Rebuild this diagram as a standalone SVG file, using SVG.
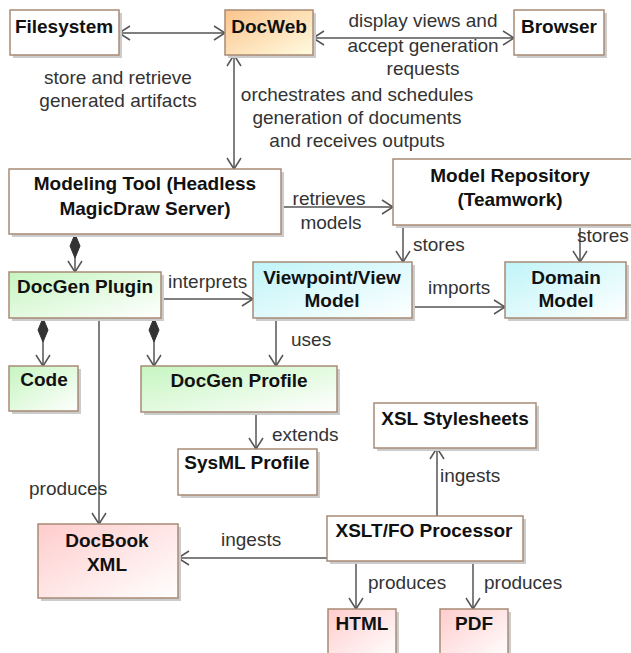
<svg xmlns="http://www.w3.org/2000/svg" width="631" height="653" viewBox="0 0 631 653">
<defs>
<linearGradient id="gOrange" x1="0" y1="0" x2="1" y2="1"><stop offset="0" stop-color="#fbc48c"/><stop offset="1" stop-color="#fffbe0"/></linearGradient>
<linearGradient id="gGreen" x1="0" y1="0" x2="1" y2="1"><stop offset="0" stop-color="#c6f5c0"/><stop offset="1" stop-color="#ffffff"/></linearGradient>
<linearGradient id="gCyan" x1="0" y1="0" x2="1" y2="1"><stop offset="0" stop-color="#bff4f8"/><stop offset="1" stop-color="#ffffff"/></linearGradient>
<linearGradient id="gRed" x1="0" y1="0" x2="1" y2="1"><stop offset="0" stop-color="#ffcccc"/><stop offset="1" stop-color="#ffffff"/></linearGradient>
<marker id="arr" markerUnits="userSpaceOnUse" markerWidth="16" markerHeight="16" viewBox="-12 -8 14 16" refX="0" refY="0" orient="auto-start-reverse">
<path d="M-11,-7 L0,0 L-11,7" fill="none" stroke="#555" stroke-width="1.5"/>
</marker>
<marker id="dia" markerUnits="userSpaceOnUse" markerWidth="28" markerHeight="14" viewBox="0 -7 26 14" refX="0" refY="0" orient="auto">
<path d="M0,0 L12,-5 L24,0 L12,5 Z" fill="#333" stroke="#333" stroke-width="1"/>
</marker>
</defs>
<style>
.box{stroke:#a88a74;stroke-width:1.5}
.sh{fill:#cccccc}
.t{font-family:"Liberation Sans",Arial,sans-serif;font-size:19px;font-weight:bold;fill:#111;text-anchor:middle}
.l{font-family:"Liberation Sans",Arial,sans-serif;font-size:19px;fill:#333}
.m{text-anchor:middle}
.c{fill:none;stroke:#555;stroke-width:1.5}
</style>
<g id="connectors">
<line class="c" x1="119" y1="33" x2="225" y2="33" marker-start="url(#arr)" marker-end="url(#arr)"/>
<line class="c" x1="313" y1="38" x2="514" y2="38" marker-start="url(#arr)" marker-end="url(#arr)"/>
<line class="c" x1="234" y1="55" x2="234" y2="169" marker-start="url(#arr)" marker-end="url(#arr)"/>
<line class="c" x1="281" y1="207" x2="393" y2="207" marker-end="url(#arr)"/>
<line class="c" x1="75" y1="234" x2="75" y2="272" marker-start="url(#dia)" marker-end="url(#arr)"/>
<line class="c" x1="403" y1="225" x2="403" y2="262" marker-end="url(#arr)"/>
<line class="c" x1="580" y1="225" x2="580" y2="262" marker-end="url(#arr)"/>
<line class="c" x1="161" y1="299" x2="253" y2="299" marker-end="url(#arr)"/>
<line class="c" x1="412" y1="307" x2="505" y2="307" marker-end="url(#arr)"/>
<line class="c" x1="43" y1="318" x2="43" y2="366" marker-start="url(#dia)" marker-end="url(#arr)"/>
<line class="c" x1="154" y1="318" x2="154" y2="366" marker-start="url(#dia)" marker-end="url(#arr)"/>
<line class="c" x1="99" y1="318" x2="99" y2="524" marker-end="url(#arr)"/>
<line class="c" x1="276" y1="318" x2="276" y2="366" marker-end="url(#arr)"/>
<line class="c" x1="256" y1="412" x2="256" y2="449" marker-end="url(#arr)"/>
<line class="c" x1="327" y1="558" x2="178" y2="558" marker-end="url(#arr)"/>
<line class="c" x1="437" y1="516" x2="437" y2="448" marker-end="url(#arr)"/>
<line class="c" x1="356" y1="561" x2="356" y2="609" marker-end="url(#arr)"/>
<line class="c" x1="473" y1="561" x2="473" y2="609" marker-end="url(#arr)"/>
<text class="l m" x="118" y="84">store and retrieve</text>
<text class="l m" x="118" y="107">generated artifacts</text>
<text class="l m" x="423" y="27">display views and</text>
<text class="l m" x="423" y="52">accept generation</text>
<text class="l m" x="423" y="75">requests</text>
<text class="l m" x="357" y="101">orchestrates and schedules</text>
<text class="l m" x="357" y="124">generation of documents</text>
<text class="l m" x="357" y="147">and receives outputs</text>
<text class="l m" x="329" y="205">retrieves</text>
<text class="l m" x="331" y="229">models</text>
<text class="l" x="413" y="251">stores</text>
<text class="l" x="577" y="242" font-size="18">stores</text>
<text class="l" x="168" y="288">interprets</text>
<text class="l" x="428" y="294">imports</text>
<text class="l" x="291" y="346">uses</text>
<text class="l" x="272" y="441">extends</text>
<text class="l" x="29" y="495">produces</text>
<text class="l" x="221" y="546">ingests</text>
<text class="l" x="440" y="482">ingests</text>
<text class="l" x="368" y="589">produces</text>
<text class="l" x="484" y="589">produces</text>
</g>
<g id="filesystem"><rect class="sh" x="13" y="13" width="109" height="45"/><rect class="box" x="10" y="10" width="109" height="45" fill="#fff"/><text class="t" x="64" y="33">Filesystem</text></g>
<g id="docweb"><rect class="sh" x="228" y="13" width="88" height="45"/><rect class="box" x="225" y="10" width="88" height="45" fill="url(#gOrange)"/><text class="t" x="269" y="33">DocWeb</text></g>
<g id="browser"><rect class="sh" x="517" y="13" width="90" height="45"/><rect class="box" x="514" y="10" width="90" height="45" fill="#fff"/><text class="t" x="559" y="33">Browser</text></g>
<g id="modeling-tool"><rect class="sh" x="12" y="172" width="272" height="65"/><rect class="box" x="9" y="169" width="272" height="65" fill="#fff"/><text class="t" x="145" y="190">Modeling Tool (Headless</text><text class="t" x="145" y="215">MagicDraw Server)</text></g>
<g id="model-repository"><rect class="sh" x="396" y="162" width="250" height="66"/><rect class="box" x="393" y="159" width="250" height="66" fill="#fff"/><text class="t" x="510" y="182">Model Repository</text><text class="t" x="510" y="206">(Teamwork)</text></g>
<g id="docgen-plugin"><rect class="sh" x="12" y="275" width="152" height="46"/><rect class="box" x="9" y="272" width="152" height="46" fill="url(#gGreen)"/><text class="t" x="85" y="293">DocGen Plugin</text></g>
<g id="viewpoint-view-model"><rect class="sh" x="256" y="265" width="159" height="56"/><rect class="box" x="253" y="262" width="159" height="56" fill="url(#gCyan)"/><text class="t" x="332" y="284">Viewpoint/View</text><text class="t" x="332" y="307">Model</text></g>
<g id="domain-model"><rect class="sh" x="508" y="265" width="121" height="56"/><rect class="box" x="505" y="262" width="121" height="56" fill="url(#gCyan)"/><text class="t" x="566" y="284">Domain</text><text class="t" x="566" y="307">Model</text></g>
<g id="code"><rect class="sh" x="12" y="369" width="69" height="45"/><rect class="box" x="9" y="366" width="69" height="45" fill="url(#gGreen)"/><text class="t" x="44" y="386">Code</text></g>
<g id="docgen-profile"><rect class="sh" x="144" y="369" width="196" height="46"/><rect class="box" x="141" y="366" width="196" height="46" fill="url(#gGreen)"/><text class="t" x="239" y="387">DocGen Profile</text></g>
<g id="sysml-profile"><rect class="sh" x="181" y="452" width="139" height="46"/><rect class="box" x="178" y="449" width="139" height="46" fill="#fff"/><text class="t" x="247" y="469">SysML Profile</text></g>
<g id="xsl-stylesheets"><rect class="sh" x="377" y="406" width="162" height="45"/><rect class="box" x="374" y="403" width="162" height="45" fill="#fff"/><text class="t" x="455" y="425">XSL Stylesheets</text></g>
<g id="docbook-xml"><rect class="sh" x="41" y="527" width="140" height="74"/><rect class="box" x="38" y="524" width="140" height="74" fill="url(#gRed)"/><text class="t" x="107" y="547">DocBook</text><text class="t" x="107" y="571">XML</text></g>
<g id="xslt-fo-processor"><rect class="sh" x="330" y="519" width="196" height="45"/><rect class="box" x="327" y="516" width="196" height="45" fill="#fff"/><text class="t" x="424" y="537">XSLT/FO Processor</text></g>
<g id="html"><rect class="sh" x="331" y="612" width="68" height="50"/><rect class="box" x="328" y="609" width="68" height="50" fill="url(#gRed)"/><text class="t" x="362" y="630">HTML</text></g>
<g id="pdf"><rect class="sh" x="443" y="612" width="68" height="50"/><rect class="box" x="440" y="609" width="68" height="50" fill="url(#gRed)"/><text class="t" x="474" y="630">PDF</text></g>
</svg>
